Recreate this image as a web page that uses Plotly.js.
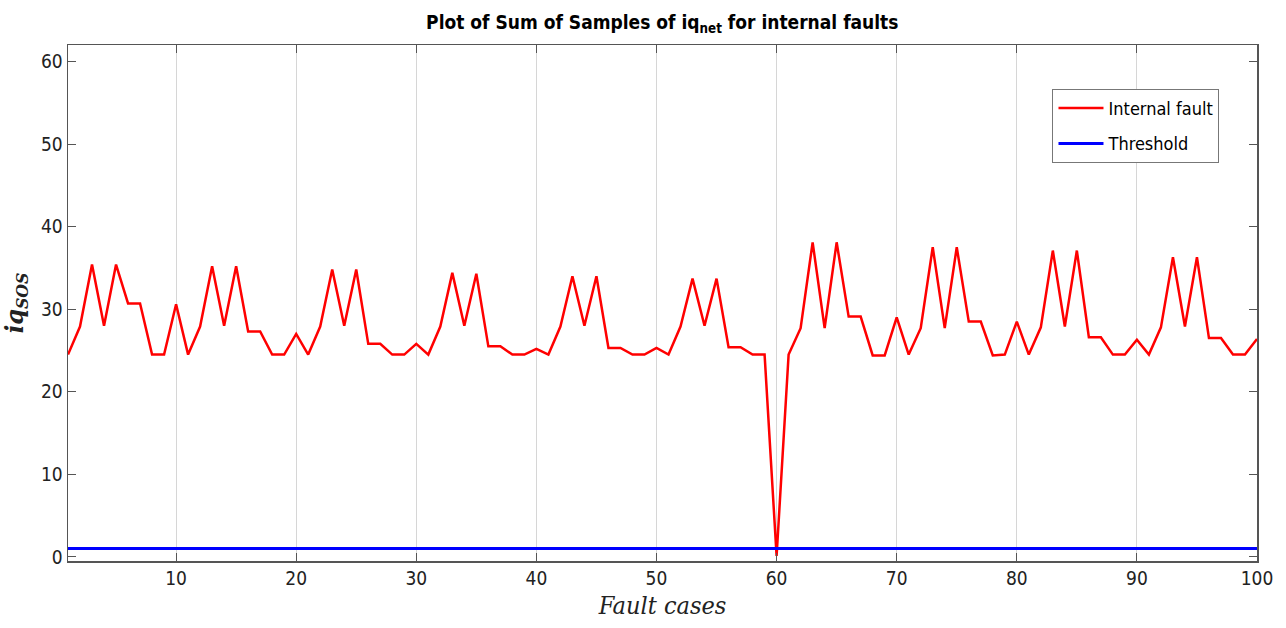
<!DOCTYPE html>
<html>
<head>
<meta charset="utf-8">
<script src="https://cdn.plot.ly/plotly-3.0.1.min.js"></script>
<style>html,body{margin:0;padding:0;background:#fff;}#chart{width:1286px;height:628px;}</style>
</head>
<body>
<div id="chart"></div>
<script>
const faultCases = Array.from({length: 100}, (_, i) => i + 1);
const internalFault = [
  24.5, 27.9, 35.4, 28.0, 35.4, 30.7, 30.7, 24.5, 24.5, 30.6,
  24.5, 27.9, 35.2, 28.0, 35.2, 27.3, 27.3, 24.5, 24.5, 27.0,
  24.5, 27.9, 34.8, 28.0, 34.8, 25.8, 25.8, 24.5, 24.5, 25.8,
  24.5, 27.9, 34.4, 28.0, 34.3, 25.5, 25.5, 24.5, 24.5, 25.2,
  24.5, 27.9, 34.0, 28.0, 34.0, 25.3, 25.3, 24.5, 24.5, 25.3,
  24.5, 27.9, 33.7, 28.0, 33.7, 25.4, 25.4, 24.5, 24.5, 0.1,
  24.5, 27.7, 38.1, 27.7, 38.1, 29.1, 29.1, 24.4, 24.4, 29.0,
  24.5, 27.7, 37.5, 27.7, 37.5, 28.5, 28.5, 24.4, 24.5, 28.5,
  24.5, 27.8, 37.1, 27.9, 37.1, 26.6, 26.6, 24.5, 24.5, 26.3,
  24.5, 27.8, 36.3, 27.9, 36.3, 26.5, 26.5, 24.5, 24.5, 26.4
];
const thresholdValue = 1;
const threshold = faultCases.map(() => thresholdValue);
const xTicks = [10, 20, 30, 40, 50, 60, 70, 80, 90, 100];
const yTicks = [0, 10, 20, 30, 40, 50, 60];

const narrow = '"DejaVu Sans Condensed", "Liberation Sans Narrow", "Liberation Sans", Arial, sans-serif';
const serif = '"DejaVu Serif Condensed", "Liberation Serif", "DejaVu Serif", serif';

const traces = [
  {x: faultCases, y: internalFault, type: 'scatter', mode: 'lines', name: 'Internal fault',
   legendgroup: 'a', line: {color: '#ff0000', width: 2.5}},
  {x: faultCases, y: threshold, type: 'scatter', mode: 'lines', name: 'Threshold',
   legendgroup: 'b', line: {color: '#0000ff', width: 3}}
];

const layout = {
  width: 1286, height: 628,
  margin: {l: 68, r: 29, t: 45, b: 67},
  paper_bgcolor: '#fff', plot_bgcolor: '#fff',
  showlegend: true,
  title: {text: '<b>Plot of Sum of Samples of iq<sub>net</sub> for internal faults</b>',
    font: {family: narrow, size: 19, color: '#000'}, x: 0.515, xanchor: 'center', y: 0.975, yanchor: 'top'},
  xaxis: {
    range: [1, 100], tickvals: xTicks, ticktext: xTicks.map(String),
    ticks: 'inside', ticklen: 8, tickcolor: '#555', mirror: 'ticks',
    showline: true, linecolor: '#555', linewidth: 1.5,
    showgrid: true, gridcolor: '#d6d6d6', gridwidth: 1, zeroline: false,
    tickfont: {family: narrow, size: 19, color: '#222'},
    title: {text: '<i>Fault cases</i>', font: {family: serif, size: 25, color: '#222'}, standoff: 8}
  },
  yaxis: {
    range: [-0.5, 62], tickvals: yTicks, ticktext: yTicks.map(String),
    ticks: 'inside', ticklen: 8, tickcolor: '#555', mirror: 'ticks',
    showline: true, linecolor: '#555', linewidth: 1.5,
    showgrid: false, zeroline: false,
    tickfont: {family: narrow, size: 19, color: '#222'},
    title: {text: '<b><i>iq<sub>SOS</sub></i></b>', font: {family: serif, size: 25, color: '#222'}, standoff: 10}
  },
  legend: {
    x: 0.828, y: 0.915, xanchor: 'left', yanchor: 'top',
    bgcolor: '#fff', bordercolor: '#777', borderwidth: 1,
    font: {family: narrow, size: 18, color: '#000'},
    tracegroupgap: 9, itemwidth: 45
  }
};

Plotly.newPlot('chart', traces, layout, {displayModeBar: false, staticPlot: true});
</script>
</body>
</html>
